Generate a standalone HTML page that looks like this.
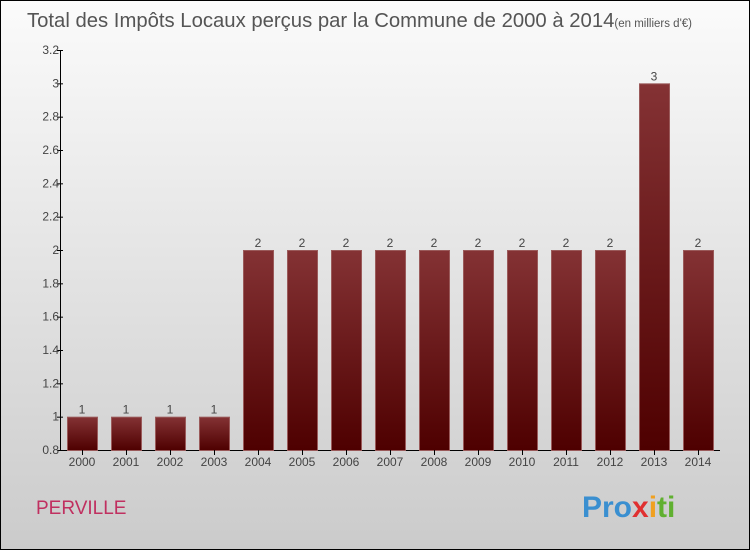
<!DOCTYPE html>
<html><head><meta charset="utf-8"><style>
body{margin:0}
#c{width:750px;height:550px;position:relative;box-sizing:border-box;border:1px solid #000;background:linear-gradient(#fbfbfb,#cbcbcb);font-family:"Liberation Sans",sans-serif;overflow:hidden}
</style></head><body>
<div id="c">
<svg width="750" height="550" style="position:absolute;left:-1px;top:-1px" id="svg">
<defs><linearGradient id="g" x1="0" y1="0" x2="0" y2="1"><stop offset="0" stop-color="#843234"/><stop offset="1" stop-color="#4e0000"/></linearGradient></defs>
<text x="27" y="27" font-size="20.3" fill="#555">Total des Impôts Locaux perçus par la Commune de 2000 à 2014<tspan font-size="11.5">(en milliers d'€)</tspan></text>
<text x="36" y="514" font-size="19" fill="#c03060">PERVILLE</text>
<text x="582" y="517" font-size="30" font-weight="bold" fill="#3a8fd0">Pro<tspan fill="#e03030">x</tspan><tspan fill="#f0a020">i</tspan><tspan fill="#60b030">ti</tspan></text>
<g id="plot"></g>
</svg>
</div>
<script>
const years=["2000","2001","2002","2003","2004","2005","2006","2007","2008","2009","2010","2011","2012","2013","2014"];
const values=[1,1,1,1,2,2,2,2,2,2,2,2,2,3,2];
const yTicks=[0.8,1,1.2,1.4,1.6,1.8,2,2.2,2.4,2.6,2.8,3,3.2];
const ns="http://www.w3.org/2000/svg",g=document.getElementById('plot');
const y=v=>450-(v-0.8)/2.4*400, x=i=>67+i*44;
function mk(t,a){const e=document.createElementNS(ns,t);for(const k in a)e.setAttribute(k,a[k]);g.appendChild(e);return e;}
let ax=mk('line',{x1:60.5,y1:50,x2:60.5,y2:450.5,stroke:'#000'});


let bx=mk('line',{x1:60,y1:450.5,x2:720,y2:450.5,stroke:'#000'});


yTicks.forEach(t=>{
 let l=mk('line',{x1:57,x2:63,y1:y(t)+.5,y2:y(t)+.5,stroke:'#000'});
 
 
 let tx=mk('text',{x:59,y:y(t)+4,'font-size':12,fill:'#444','text-anchor':'end'});
 tx.textContent=String(t);
 
 
});
values.forEach((v,i)=>{
 let r=mk('rect',{x:x(i)+.5,y:y(v)+.5,width:30,height:450-y(v),fill:'url(#g)',stroke:'#9a5a5a','stroke-width':1});
 
 
 let vl=mk('text',{x:x(i)+15,y:y(v)-3,'font-size':12,fill:'#444','text-anchor':'middle'});
 vl.textContent=String(v);
 
 
 let tk=mk('line',{x1:x(i)+15.5,x2:x(i)+15.5,y1:450,y2:455,stroke:'#000'});
 
 
 let xl=mk('text',{x:x(i)+15,y:466,'font-size':12,fill:'#444','text-anchor':'middle'});
 xl.textContent=years[i];
 
 
});
</script>
</body></html>
